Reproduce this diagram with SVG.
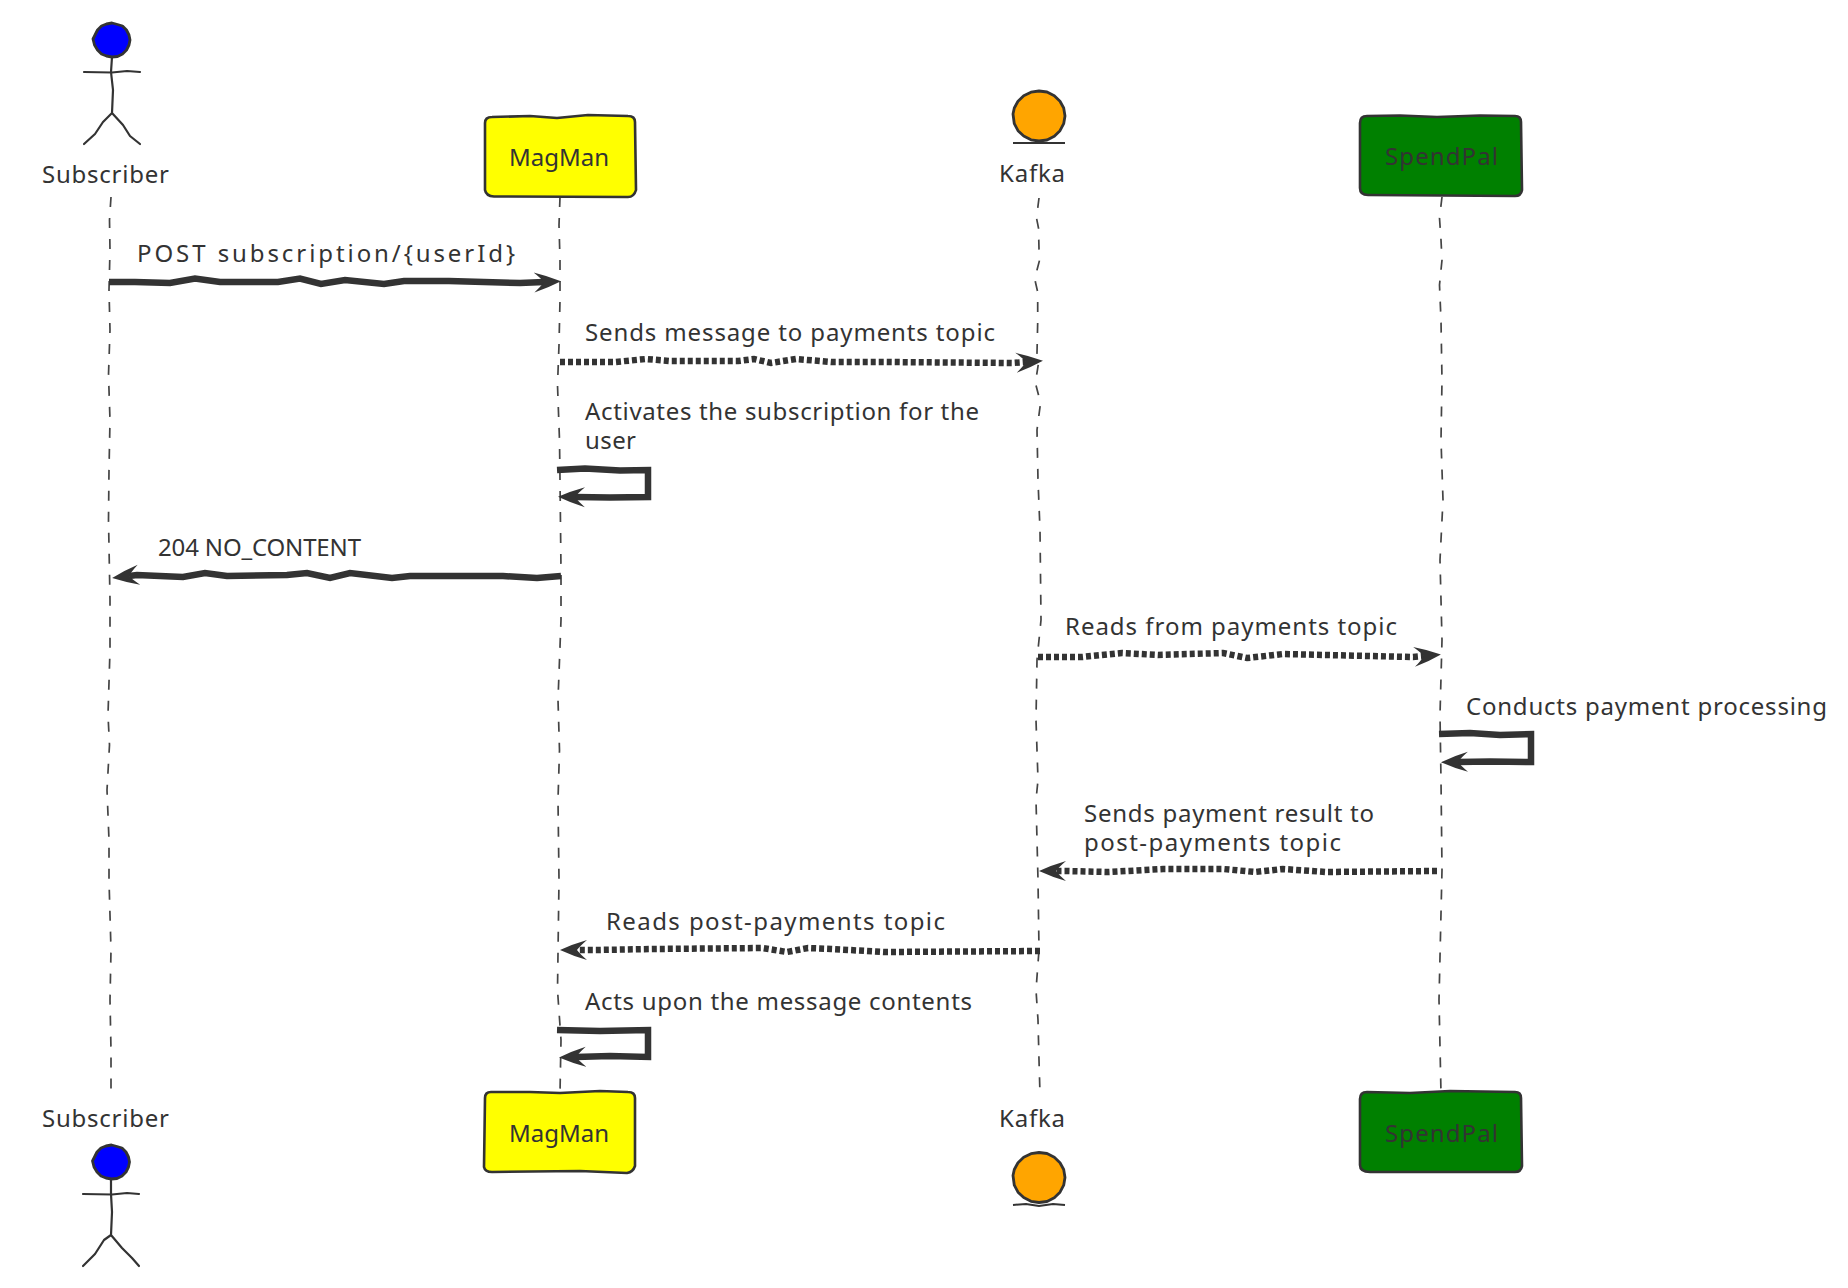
<svg xmlns="http://www.w3.org/2000/svg" width="1848" height="1288" viewBox="0 0 1848 1288">
<style>
text{font-family:"Noto Sans","DejaVu Sans",sans-serif;font-size:24px;fill:#333}
.life{fill:none;stroke:#444;stroke-width:1.7;stroke-dasharray:10 11}
.msg{fill:none;stroke:#333;stroke-width:6.5;stroke-linejoin:miter;marker-end:url(#head)}
.dot{stroke-dasharray:5 3}
.box{stroke:#333;stroke-width:2.6;stroke-linejoin:round}
.stick{fill:none;stroke:#333;stroke-width:2.2;stroke-linejoin:round;stroke-linecap:round}
.blob{stroke:#333;stroke-width:2.8;stroke-linejoin:round}
.under{fill:none;stroke:#333;stroke-width:2}
</style>
<defs>
<marker id="head" markerUnits="userSpaceOnUse" markerWidth="40" markerHeight="30" refX="10" refY="15" orient="auto" viewBox="0 0 40 30">
<path d="M0,5 Q14,9 27,15 Q14,21 0,25 Q7,19 10,15 Q7,11 0,5 Z" fill="#333"/>
</marker>
</defs>
<rect width="1848" height="1288" fill="#fff"/>
<g id="lifelines">
<path class="life" d="M111,197 L109.5,220 L110,250 L109,290 L110,330 L108.5,375 L110,420 L109,470 L108.5,520 L110,600 L110,650 L108,715 L109.5,745 L107,790 L109,840 L109,880 L111,950 L110,1000 L111,1050 L111,1094"/>
<path class="life" d="M560,197 L559,225 L560,260 L560,300 L559,345 L557.5,385 L559.5,440 L560,480 L561,570 L561,620 L558,700 L559.5,750 L558,800 L559,880 L557.5,990 L561,1040 L560,1093"/>
<path class="life" d="M1039,198 L1036.5,218 L1038.5,228 L1039,249 L1039.6,260 L1037,270 L1035.4,282 L1037.7,292 L1037.7,322 L1037,353 L1038.5,363 L1035.4,383 L1038.5,395 L1040,407 L1037,430 L1038,480 L1040,530 L1041,620 L1037,660 L1036,720 L1038,780 L1036,800 L1038,880 L1039,950 L1036,990 L1038,1020 L1039,1060 L1040,1094"/>
<path class="life" d="M1442,197 L1439.5,218 L1441,240 L1442,260 L1439.5,285 L1441,320 L1442,380 L1441,440 L1443,500 L1440,560 L1442,640 L1440,715 L1441,780 L1442,870 L1439,1000 L1441,1093"/>
</g>
<g id="connectors">
<path class="msg" d="M109,282 L135,282 L170,283 L195,278.5 L220,282 L278,282 L300,278.5 L321,284 L345,280 L384,284 L404,281 L449,281 L520,283 L544,282"/>
<path class="msg dot" d="M560,362 L615,362 L646,359 L669,361 L738,361 L754,359 L771,363 L796,359 L831,362 L885,362 L1012,363 L1026,362"/>
<path class="msg" d="M557,470 L585,468.5 L620,470.5 L648,470 L648,497 L610,497.5 L575,497"/>
<path class="msg" d="M561,576 L537,578 L503,576 L410,576 L392,578 L350,573 L330,578 L307,573 L287,575 L227,576 L205,573 L183,577 L137,575 L129,576"/>
<path class="msg dot" d="M1038,657 L1082,657 L1122,653 L1158,655 L1223,653 L1247,658 L1283,654 L1413,657 L1424,656"/>
<path class="msg" d="M1439,734 L1470,733 L1500,735 L1531,734 L1531,762 L1490,761.5 L1458,762"/>
<path class="msg dot" d="M1437,871 L1326,872 L1283,869 L1255,872 L1223,869 L1163,869 L1109,872 L1065,871 L1056,871"/>
<path class="msg dot" d="M1040,951 L885,952 L831,949 L808,948 L787,952 L762,948 L654,949 L596,950 L577,950"/>
<path class="msg" d="M557,1030 L600,1031 L648,1030 L648,1057 L610,1056 L576,1057"/>
</g>
<g id="subscriber-top">
<path class="blob" fill="#0000ff" d="M130,40 L129,45 L126.5,50 L122.5,54 L117.5,56.5 L112,57 L106.5,56 L101.5,54 L97.5,50 L94.5,45 L93,39 L95,35 L97.5,30 L101.5,26 L106.5,24 L112,23 L117.5,24.5 L122.5,26 L126.5,30 L129,35 Z"/>
<path class="stick" d="M112,57 L111,72 L113,90 L112,113 M84,72 L112,72.5 L127,71 L140,72 M112,113 L103,122 L95,134 L84,144 M112,113 L123,125 L130,136 L140,144"/>
<text x="42" y="183" textLength="127">Subscriber</text>
</g>
<g id="magman-top">
<path class="box" fill="#ffff00" d="M485,123 Q485,117 492,117 L530,116 L557,118 L588,115 L628,116 Q635,116 635,122 L636,190 Q634,197 628,197 L494,196.5 Q486,196 485,190 Z"/>
<text x="509" y="166" textLength="100">MagMan</text>
</g>
<g id="kafka-top">
<path class="blob" fill="#ffa500" d="M1065,116 L1063.7,123.7 L1060,130.7 L1054.3,136.2 L1047,140 L1039,141 L1031,139.8 L1023.7,136 L1018,130.7 L1014.3,123.7 L1013,114 L1014.3,108 L1018,101.3 L1023.7,95.8 L1031,92.2 L1039,91 L1047,92 L1054.3,95.8 L1060,101.3 L1063.7,108 Z"/>
<path class="under" d="M1013,143 L1040,143 L1065,143"/>
<text x="999" y="182" textLength="66">Kafka</text>
</g>
<g id="spendpal-top">
<path class="box" fill="#008000" d="M1360,123 Q1360,116 1367,116 L1400,115.5 L1437,117 L1480,115.5 L1515,116 Q1521,116 1521,122 L1522,190 Q1521,196 1515,196 L1368,195 Q1360,195 1360,188 Z"/>
<text x="1385" y="165" textLength="113">SpendPal</text>
</g>
<g id="labels">
<text x="137" y="262" textLength="378">POST subscription/{userId}</text>
<text x="585" y="341" textLength="410">Sends message to payments topic</text>
<text x="585" y="420" textLength="394">Activates the subscription for the</text>
<text x="585" y="449" textLength="51">user</text>
<text x="158" y="556" textLength="203">204 NO_CONTENT</text>
<text x="1065" y="635" textLength="332">Reads from payments topic</text>
<text x="1466" y="715" textLength="361">Conducts payment processing</text>
<text x="1084" y="822" textLength="290">Sends payment result to</text>
<text x="1084" y="851" textLength="257">post-payments topic</text>
<text x="606" y="930" textLength="339">Reads post-payments topic</text>
<text x="585" y="1010" textLength="387">Acts upon the message contents</text>
</g>
<g id="subscriber-bottom">
<text x="42" y="1127" textLength="127">Subscriber</text>
<path class="blob" fill="#0000ff" transform="translate(-0.5,1122)" d="M130,40 L129,45 L126.5,50 L122.5,54 L117.5,56.5 L112,57 L106.5,56 L101.5,54 L97.5,50 L94.5,45 L93,39 L95,35 L97.5,30 L101.5,26 L106.5,24 L112,23 L117.5,24.5 L122.5,26 L126.5,30 L129,35 Z"/>
<path class="stick" d="M111,1179 L111,1194 L112,1212 L111,1235 M83,1194 L112,1194.5 L127,1193 L139,1194 M111,1235 L104,1240 L95,1254 L83,1266 M111,1235 L122,1248 L132,1258 L139,1266"/>
</g>
<g id="magman-bottom">
<path class="box" fill="#ffff00" d="M485,1098 Q485,1092 491,1092 L530,1092 L560,1093 L600,1091 L628,1092 Q635,1092 635,1098 L635,1166 Q633,1172 627,1173 L580,1171 L492,1172 Q485,1172 484,1167 Z"/>
<text x="509" y="1142" textLength="100">MagMan</text>
</g>
<g id="kafka-bottom">
<text x="999" y="1127" textLength="66">Kafka</text>
<path class="blob" fill="#ffa500" transform="translate(0,1061.5)" d="M1065,116 L1063.7,123.7 L1060,130.7 L1054.3,136.2 L1047,140 L1039,141 L1031,139.8 L1023.7,136 L1018,130.7 L1014.3,123.7 L1013,114 L1014.3,108 L1018,101.3 L1023.7,95.8 L1031,92.2 L1039,91 L1047,92 L1054.3,95.8 L1060,101.3 L1063.7,108 Z"/>
<path class="under" d="M1013,1205 L1026,1204 L1039,1206 L1053,1204 L1065,1205"/>
</g>
<g id="spendpal-bottom">
<path class="box" fill="#008000" d="M1360,1099 Q1360,1092 1367,1092 L1410,1093 L1450,1091 L1515,1092 Q1521,1092 1521,1098 L1522,1166 Q1521,1172 1515,1172 L1370,1172 Q1360,1172 1360,1165 Z"/>
<text x="1385" y="1142" textLength="113">SpendPal</text>
</g>
</svg>
